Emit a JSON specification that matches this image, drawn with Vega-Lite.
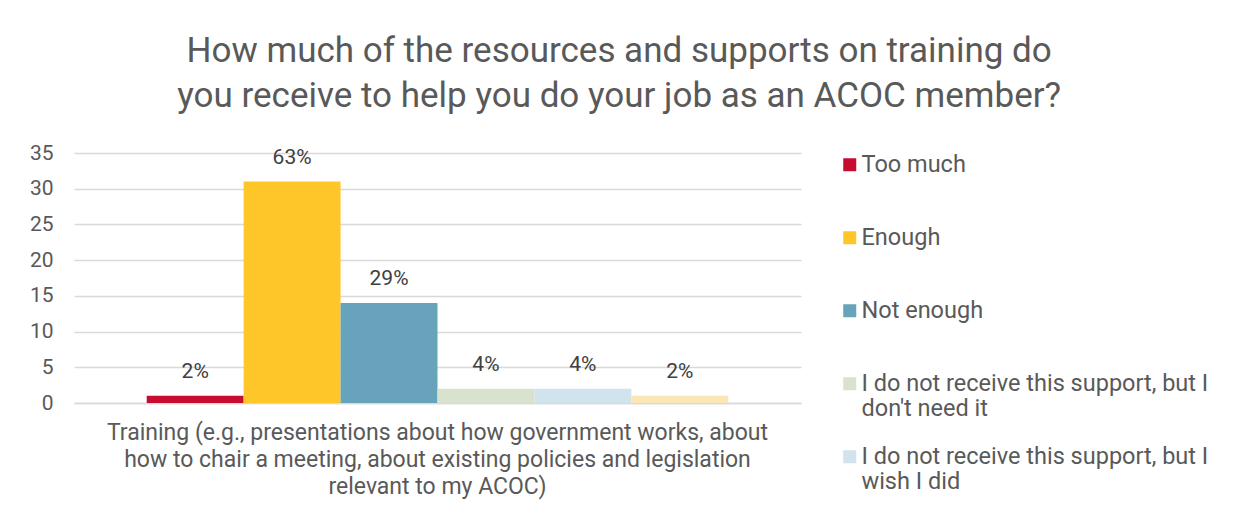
{
  "$schema": "https://vega.github.io/schema/vega-lite/v6.json",
  "width": 727,
  "height": 250,
  "padding": {"left": 29, "top": 34, "right": 4, "bottom": 4},
  "background": "white",
  "title": {
    "text": ["How much of the resources and supports on training do", "you receive to help you do your job as an ACOC member?"],
    "fontSize": 35,
    "font": "Roboto",
    "fontWeight": "normal",
    "color": "#595959",
    "anchor": "middle",
    "frame": "bounds",
    "lineHeight": 45,
    "offset": 28
  },
  "data": {
    "values": [
      {"question": "Training (e.g., presentations about how government works, about how to chair a meeting, about existing policies and legislation relevant to my ACOC)", "response": "Too much", "count": 1, "label": "2%"},
      {"question": "Training (e.g., presentations about how government works, about how to chair a meeting, about existing policies and legislation relevant to my ACOC)", "response": "Enough", "count": 31, "label": "63%"},
      {"question": "Training (e.g., presentations about how government works, about how to chair a meeting, about existing policies and legislation relevant to my ACOC)", "response": "Not enough", "count": 14, "label": "29%"},
      {"question": "Training (e.g., presentations about how government works, about how to chair a meeting, about existing policies and legislation relevant to my ACOC)", "response": "I do not receive this support, but I don't need it", "count": 2, "label": "4%"},
      {"question": "Training (e.g., presentations about how government works, about how to chair a meeting, about existing policies and legislation relevant to my ACOC)", "response": "I do not receive this support, but I wish I did", "count": 2, "label": "4%"},
      {"question": "Training (e.g., presentations about how government works, about how to chair a meeting, about existing policies and legislation relevant to my ACOC)", "response": "I don't know", "count": 1, "label": "2%"}
    ]
  },
  "encoding": {
    "x": {
      "field": "question",
      "type": "nominal",
      "title": null,
      "scale": {"paddingInner": 0, "paddingOuter": 0.125},
      "axis": {
        "labelAngle": 0,
        "ticks": false,
        "domain": true,
        "domainColor": "#D9D9D9",
        "domainWidth": 1.3,
        "labelFont": "Roboto",
        "labelFontSize": 23,
        "labelColor": "#595959",
        "labelPadding": 18,
        "labelLineHeight": 27,
        "labelLimit": 0,
        "labelExpr": "['Training (e.g., presentations about how government works, about', 'how to chair a meeting, about existing policies and legislation', 'relevant to my ACOC)']"
      }
    },
    "xOffset": {
      "field": "response",
      "type": "nominal",
      "sort": ["Too much", "Enough", "Not enough", "I do not receive this support, but I don't need it", "I do not receive this support, but I wish I did", "I don't know"],
      "scale": {"paddingInner": 0, "paddingOuter": 0}
    },
    "y": {
      "field": "count",
      "type": "quantitative",
      "title": null,
      "scale": {"domain": [0, 35], "nice": false},
      "axis": {
        "values": [0, 5, 10, 15, 20, 25, 30, 35],
        "ticks": false,
        "domain": false,
        "labelFont": "Roboto",
        "labelFontSize": 21,
        "labelColor": "#595959",
        "labelPadding": 21,
        "gridColor": "#D9D9D9",
        "gridWidth": 1.3
      }
    }
  },
  "layer": [
    {
      "mark": {"type": "bar"},
      "encoding": {
        "color": {
          "field": "response",
          "type": "nominal",
          "sort": ["Too much", "Enough", "Not enough", "I do not receive this support, but I don't need it", "I do not receive this support, but I wish I did", "I don't know"],
          "scale": {
            "domain": ["Too much", "Enough", "Not enough", "I do not receive this support, but I don't need it", "I do not receive this support, but I wish I did", "I don't know"],
            "range": ["#C60C30", "#FFC629", "#67A3BA", "#D8E2CF", "#D1E3ED", "#FDE6B6"]
          },
          "legend": {
            "orient": "right",
            "offset": 37,
            "title": null,
            "padding": 0,
            "symbolType": "square",
            "symbolSize": 169,
            "symbolStrokeWidth": 0,
            "labelFont": "Roboto",
            "labelFontSize": 23.5,
            "labelColor": "#595959",
            "labelOffset": 0,
            "labelLimit": 0,
            "gridAlign": "all",
            "rowPadding": 23,
            "values": ["Too much", "Enough", "Not enough", "I do not receive this support, but I don't need it", "I do not receive this support, but I wish I did"],
            "labelExpr": "test(/, but I /, datum.label) ? [substring(datum.label, 0, 36), substring(datum.label, 37)] : datum.label"
          }
        }
      }
    },
    {
      "mark": {"type": "text", "dy": -18, "baseline": "alphabetic", "font": "Roboto", "fontSize": 21, "color": "#404040"},
      "encoding": {"text": {"field": "label", "type": "nominal"}}
    }
  ],
  "config": {"view": {"stroke": null}}
}
